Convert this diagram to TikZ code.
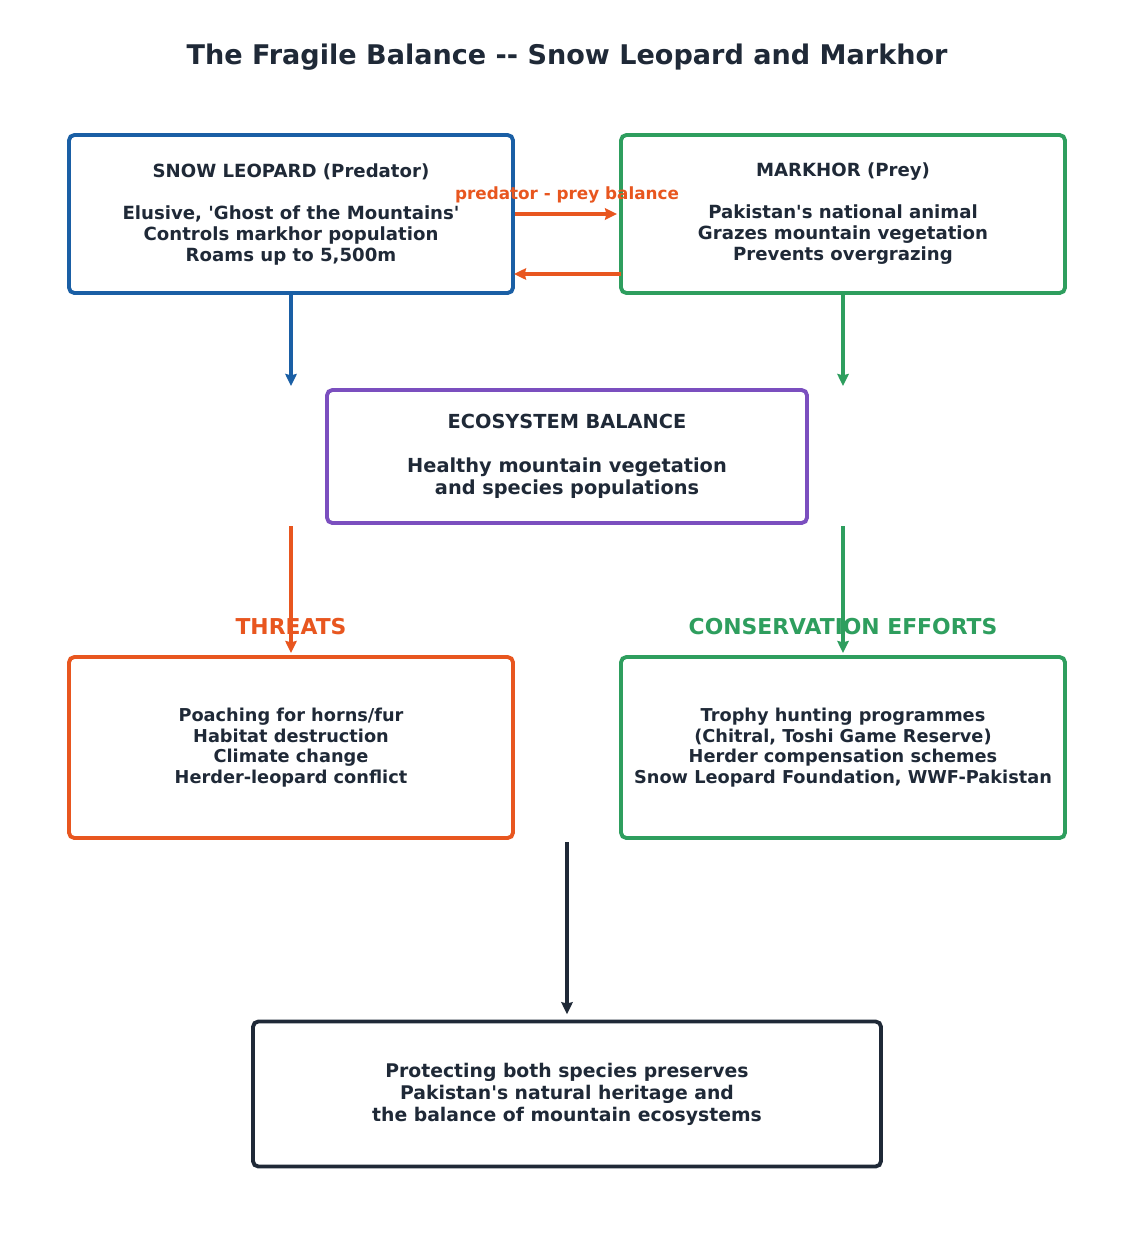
\documentclass[tikz,border=0pt]{standalone}
\usepackage{fontspec}
\setmainfont{DejaVu Sans}
\usetikzlibrary{arrows.meta}
\definecolor{ink}{HTML}{1F2937}
\definecolor{cblue}{HTML}{1A5FA5}
\definecolor{cgreen}{HTML}{2E9E5E}
\definecolor{cpurple}{HTML}{7B4FBF}
\definecolor{corange}{HTML}{E8561F}
\newcommand{\sq}{\textquotesingle}
\begin{document}
\begin{tikzpicture}[x=0.75pt,y=-0.75pt,
  box/.style={draw, line width=2.9pt, rounded corners=4pt, fill=white, align=center,
    text=ink, inner sep=0pt, font=\bfseries\fontsize{13.6}{15.75}\selectfont},
  arr/.style={line width=2.9pt, -{Stealth[length=9pt,width=8.5pt,inset=1pt]}},
  lbl/.style={font=\bfseries\fontsize{16.4}{19}\selectfont, inner sep=0pt}]
\useasboundingbox[fill=white] (0,0) rectangle (1134,1242);

\node[font=\bfseries\fontsize{20.3}{24}\selectfont, text=ink] (title) at (567,57)
  {The Fragile Balance -{}- Snow Leopard and Markhor};

\node[box, draw=cblue, minimum width=333pt, minimum height=118.5pt] (sl) at (291,214)
  {SNOW LEOPARD (Predator)\\[15.75pt]Elusive, \sq Ghost of the Mountains\sq\\Controls markhor population\\Roams up to 5,500m};
\node[box, draw=cgreen, minimum width=333pt, minimum height=118.5pt] (mk) at (843,214)
  {MARKHOR (Prey)\\[15.75pt]Pakistan\sq s national animal\\Grazes mountain vegetation\\Prevents overgrazing};
\node[box, draw=cpurple, minimum width=360pt, minimum height=99.75pt,
  font=\bfseries\fontsize{14.5}{16.5}\selectfont] (eco) at (567,456.5)
  {ECOSYSTEM BALANCE\\[16.5pt]Healthy mountain vegetation\\and species populations};
\node[box, draw=corange, minimum width=333pt, minimum height=135.75pt,
  font=\bfseries\fontsize{13.3}{15.5}\selectfont] (thr) at (291,747.5)
  {Poaching for horns/fur\\Habitat destruction\\Climate change\\Herder-leopard conflict};
\node[box, draw=cgreen, minimum width=333pt, minimum height=135.75pt,
  font=\bfseries\fontsize{13.3}{15.5}\selectfont] (con) at (843,747.5)
  {Trophy hunting programmes\\(Chitral, Toshi Game Reserve)\\Herder compensation schemes\\Snow Leopard Foundation, WWF-Pakistan};
\node[box, draw=ink, minimum width=471pt, minimum height=108.75pt,
  font=\bfseries\fontsize{14.1}{16.5}\selectfont] (fin) at (567,1094)
  {Protecting both species preserves\\Pakistan\sq s natural heritage and\\the balance of mountain ecosystems};

\node[lbl, text=corange, font=\bfseries\fontsize{12.6}{14}\selectfont] (pp) at (567,195) {predator - prey balance};
\node[lbl, text=corange] (thrl) at (291,627) {THREATS};
\node[lbl, text=cgreen] (conl) at (843,627) {CONSERVATION EFFORTS};

\coordinate (slb) at (291,386);
\coordinate (mkb) at (843,386);
\coordinate (ecl) at (291,526);
\coordinate (ecr) at (843,526);
\coordinate (thrt) at (291,653);
\coordinate (cont) at (843,653);
\coordinate (mid) at (567,842);
\coordinate (mkr) at (621,274);
\coordinate (slr) at (514,274);

\draw[arr, corange] (sl.east) -- ([xshift=-1.5pt]mk.west);
\draw[arr, corange] (mkr) -- (slr);
\draw[arr, cblue] (sl.south) -- (slb);
\draw[arr, cgreen] (mk.south) -- (mkb);
\draw[arr, corange] (ecl) -- (thrt);
\draw[arr, cgreen] (ecr) -- (cont);
\draw[arr, ink] (mid) -- ([yshift=4pt]fin.north);
\end{tikzpicture}
\end{document}
